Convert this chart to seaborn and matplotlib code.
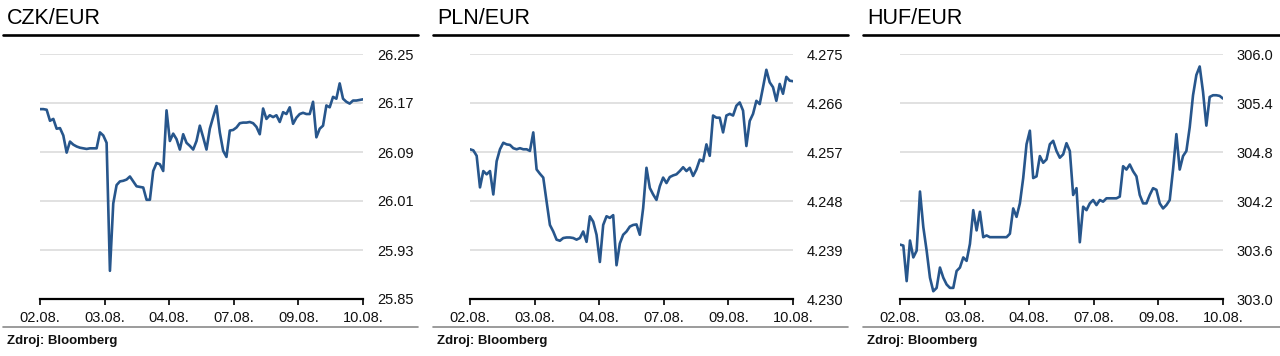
import numpy as np
import pandas as pd
import seaborn as sns
import matplotlib.pyplot as plt
from matplotlib.lines import Line2D

sns.set_style("white")
plt.rcParams['font.family'] = ['Liberation Sans', 'DejaVu Sans']

# x tick labels (trading days)
day_labels = ["02.08.", "03.08.", "04.08.", "07.08.", "09.08.", "10.08."]

# FX rates, evenly spaced in time from 02.08. to 10.08.
czk = [26.160, 26.160, 26.159, 26.141, 26.144, 26.128, 26.129, 26.117, 26.089, 26.107,
       26.102, 26.099, 26.097, 26.096, 26.095, 26.096, 26.096, 26.096, 26.122, 26.117,
       26.105, 25.896, 26.006, 26.036, 26.042, 26.043, 26.045, 26.050, 26.042, 26.034,
       26.033, 26.032, 26.012, 26.012, 26.059, 26.072, 26.070, 26.059, 26.158, 26.108,
       26.120, 26.111, 26.094, 26.119, 26.105, 26.100, 26.094, 26.108, 26.133, 26.114,
       26.094, 26.128, 26.147, 26.165, 26.122, 26.092, 26.082, 26.125, 26.126, 26.130,
       26.137, 26.138, 26.138, 26.139, 26.137, 26.131, 26.119, 26.161, 26.144, 26.150,
       26.147, 26.150, 26.139, 26.155, 26.152, 26.163, 26.136, 26.146, 26.152, 26.154,
       26.152, 26.152, 26.172, 26.114, 26.128, 26.133, 26.166, 26.163, 26.180, 26.177,
       26.202, 26.177, 26.172, 26.169, 26.174, 26.174, 26.175, 26.176]

pln = [4.2575, 4.2573, 4.2563, 4.2505, 4.2535, 4.2529, 4.2535, 4.2492, 4.2553, 4.2575,
       4.2587, 4.2584, 4.2583, 4.2577, 4.2575, 4.2577, 4.2575, 4.2575, 4.2572, 4.2606,
       4.2538, 4.2530, 4.2523, 4.2479, 4.2436, 4.2424, 4.2409, 4.2407, 4.2412, 4.2413,
       4.2413, 4.2412, 4.2409, 4.2412, 4.2424, 4.2405, 4.2452, 4.2442, 4.2418, 4.2368,
       4.2436, 4.2452, 4.2449, 4.2454, 4.2362, 4.2402, 4.2418, 4.2424, 4.2433, 4.2436,
       4.2437, 4.2418, 4.2467, 4.2541, 4.2504, 4.2492, 4.2482, 4.2507, 4.2523, 4.2513,
       4.2524, 4.2527, 4.2529, 4.2535, 4.2542, 4.2535, 4.2541, 4.2526, 4.2538, 4.2556,
       4.2553, 4.2584, 4.2563, 4.2637, 4.2633, 4.2633, 4.2606, 4.2637, 4.2640, 4.2637,
       4.2655, 4.2661, 4.2646, 4.2581, 4.2627, 4.2640, 4.2664, 4.2658, 4.2689, 4.2721,
       4.2698, 4.2689, 4.2664, 4.2695, 4.2677, 4.2708, 4.2701, 4.2700]

huf = [303.666, 303.654, 303.219, 303.716, 303.509, 303.592, 304.316, 303.881, 303.592, 303.261,
       303.095, 303.136, 303.385, 303.261, 303.178, 303.136, 303.136, 303.343, 303.385, 303.509,
       303.467, 303.674, 304.088, 303.840, 304.068, 303.757, 303.778, 303.757, 303.757, 303.757,
       303.757, 303.757, 303.757, 303.799, 304.109, 304.006, 304.171, 304.481, 304.895, 305.061,
       304.481, 304.502, 304.750, 304.668, 304.709, 304.895, 304.937, 304.812, 304.730, 304.771,
       304.908, 304.812, 304.274, 304.357, 303.695, 304.130, 304.088, 304.171, 304.212, 304.150,
       304.212, 304.192, 304.233, 304.233, 304.233, 304.233, 304.254, 304.626, 304.585, 304.647,
       304.564, 304.502, 304.274, 304.171, 304.171, 304.274, 304.357, 304.337, 304.171, 304.109,
       304.150, 304.212, 304.585, 305.019, 304.585, 304.750, 304.812, 305.102, 305.495, 305.743,
       305.847, 305.537, 305.123, 305.474, 305.495, 305.495, 305.487, 305.454]

panels = [
    ("CZK/EUR", czk, 25.85, 26.25, "{:.2f}"),
    ("PLN/EUR", pln, 4.230, 4.275, "{:.3f}"),
    ("HUF/EUR", huf, 303.0, 306.0, "{:.1f}"),
]

W, H = 1280, 356
line_color = "#27568c"

fig = plt.figure(figsize=(W / 100, H / 100), dpi=100)

for i, (title, vals, lo, hi, fmt) in enumerate(panels):
    ox = 430 * i
    ax = fig.add_axes([(ox + 40) / W, 57 / H, 323 / W, 245 / H])
    x = np.linspace(0, len(day_labels) - 1, len(vals))
    df = pd.DataFrame({"t": x, "rate": vals})
    sns.lineplot(data=df, x="t", y="rate", ax=ax, color=line_color, linewidth=1.9)

    ax.set_xlim(0, len(day_labels) - 1)
    ax.set_ylim(lo, hi)
    ax.set_xticks(range(len(day_labels)))
    ax.set_xticklabels(day_labels)
    yt = np.linspace(lo, hi, 6)
    ax.set_yticks(yt)
    ax.set_yticklabels([fmt.format(v) for v in yt])
    ax.yaxis.tick_right()
    ax.set_xlabel("")
    ax.set_ylabel("")

    ax.grid(axis="y", color="#dcdcdc", linewidth=1.2)
    ax.grid(axis="x", visible=False)
    ax.set_axisbelow(True)
    for s in ["top", "left", "right"]:
        ax.spines[s].set_visible(False)
    ax.spines["bottom"].set_color("black")
    ax.spines["bottom"].set_linewidth(1.6)
    ax.tick_params(axis="x", bottom=True, length=4, width=1.2, color="black",
                   pad=5, labelsize=10.5, labelcolor="#111111")
    ax.tick_params(axis="y", right=False, length=0, pad=10, labelsize=10.5,
                   labelcolor="#111111")
    for lab in ax.get_yticklabels():
        lab.set_horizontalalignment("left")

    # header and footer decorations
    fig.text((ox + 7) / W, 1 - 24 / H, title, fontsize=15.5, va="baseline", color="black")
    right = W if i == 2 else ox + 418
    fig.add_artist(Line2D([(ox + 3) / W, right / W], [1 - 35 / H] * 2,
                          color="black", linewidth=1.9))
    fig.add_artist(Line2D([(ox + 3) / W, right / W], [1 - 327 / H] * 2,
                          color="#8a8a8a", linewidth=1.2))
    fig.text((ox + 7) / W, 1 - 344 / H, "Zdroj: Bloomberg", fontsize=9.5,
             fontweight="bold", va="baseline", color="#111111")

fig.savefig("out.png", dpi=100)
